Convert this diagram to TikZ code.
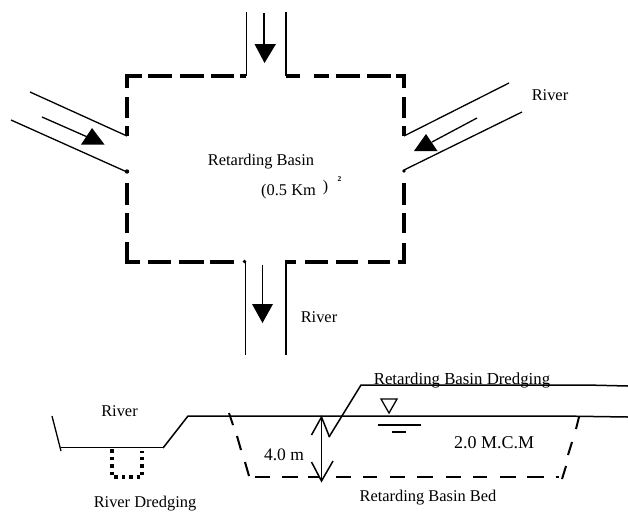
\documentclass[tikz,border=0pt]{standalone}
\usepackage{fontspec}
\setmainfont{Liberation Serif}
\begin{document}
\begin{tikzpicture}[x=1pt,y=-1pt,
  wall/.style={line width=1.5pt,black},
  thick dash/.style={line width=3.2pt,black},
  basin dash/.style={line width=2pt,black},
  thin wall/.style={line width=1.3pt,black},
  dots/.style={line width=3.2pt,black,dash pattern=on 3.5pt off 4pt},
  head/.style={fill=black,draw=none},
  lab/.style={inner sep=0pt,font=\fontsize{16.4}{18}\selectfont}]
\useasboundingbox (0,0) rectangle (628,512);
% coordinates
\coordinate (tl) at (127,76); \coordinate (tr) at (404,76);
\coordinate (bl) at (127,262); \coordinate (br) at (404,262);
% basin outline
\draw[thick dash] (127,88) -- (tl) -- (142,76);
\foreach \a/\b in {148/172,180/204,211/234} \draw[thick dash] (\a,76) -- (\b,76);
\foreach \a/\b in {314/329,336/360,367/391} \draw[thick dash] (\a,76) -- (\b,76);
\draw[thick dash] (396,76) -- (tr) -- (404,88);
\foreach \a/\b in {97/118,126/136,183/205,213/233} \draw[thick dash] (127,\a) -- (127,\b);
\foreach \a/\b in {97/118,126/136,183/205,213/233} \draw[thick dash] (404,\a) -- (404,\b);
\fill (127,171.5) circle (2.2pt); \fill (404,171) circle (1.9pt);
\draw[thick dash] (127,242) -- (bl) -- (140,262);
\foreach \a/\b in {148/171,179/204,210/234,305/328,336/358,368/390} \draw[thick dash] (\a,262) -- (\b,262);
\draw[thick dash] (398,262) -- (br) -- (404,243);
\fill (244.5,261.5) circle (1.9pt);
% top river
\draw[wall] (246.5,12) -- (246.5,76);
\draw[wall,line width=1.9pt] (286,12) -- (286,76);
\draw[thick dash] (286,76) -- (300,76);
\draw[thick dash] (240,76) -- (246,76);
\draw[wall] (264,13) -- (264,46);
\fill[head] (254.5,44) -- (276,44) -- (264.5,63) -- cycle;
% bottom river
\draw[wall] (245.5,262) -- (245.5,355);
\draw[wall,line width=1.9pt] (286,262) -- (286,355);
\draw[thick dash] (296,262) -- (285,262);
\draw[wall] (262.5,265) -- (262.5,306);
\fill[head] (252,304) -- (273,304) -- (262.5,323) -- cycle;
% left river
\draw[thin wall] (30,92) -- (127,136);
\draw[thin wall] (11,120) -- (127,172);
\draw[thin wall] (42,117) -- (92,139);
\fill[head] (92,128) -- (104.5,144.5) -- (81,144.5) -- cycle;
% right river
\draw[thin wall] (509,83) -- (404,136);
\draw[thin wall] (522,112) -- (404,170);
\draw[thin wall] (477,118) -- (432,142);
\fill[head] (426,134) -- (437.5,151) -- (414,151) -- cycle;
% labels, plan
\node[lab] (rb) at (261,161.5) {Retarding Basin};
\node[lab,anchor=west] (area) at (261,192) {(0.5 Km};
\node[lab,font=\fontsize{16}{18}\selectfont] (paren) at (325.5,187.5) {)};
\node[lab,font=\fontsize{7.5}{8}\selectfont\bfseries] (sq) at (339.5,179) {2};
\node[lab] (r1) at (550,95.5) {River};
\node[lab] (r2) at (319,317.5) {River};
% section
\draw[thin wall] (52,416) -- (61,451);
\draw[thin wall] (61,447.5) -- (163,447.5);
\draw[wall] (163,448) -- (188,416) -- (560,416) -- (628,417);
\draw[wall] (329,437) -- (361,385) -- (586,385) -- (628,386);
% dredging
\draw[dots] (112,449) -- (112,477) -- (142,477) -- (142,451);
% basin section dashed
\foreach \xa/\ya/\xb/\yb in {229/413/233/425,237/436/241/450,245/462/249/476,
  579/417/576/429,572/442/568/455,566/466/562/479}
  \draw[basin dash] (\xa,\ya) -- (\xb,\yb);
\foreach \a/\b in {255/270,282/298,308/320,336/351,363/377,390/405,417/433,446/461,473/487,500/516,527/544,556/559}
  \draw[basin dash] (\a,477) -- (\b,477);
% dimension
\coordinate (dt) at (321.5,417); \coordinate (db) at (321.5,481);
\draw[wall] (dt) -- (db);
\draw[wall] (311.5,435) -- (dt) -- (329.5,437);
\draw[wall] (311.5,462) -- (db) -- (333,461);
% water level
\draw[thin wall] (381,399) -- (397,399) -- (389,413) -- cycle;
\draw[thin wall] (378,425) -- (421,425);
\draw[wall] (392,432) -- (406,432);
% labels, section
\node[lab] (r3) at (119.5,411) {River};
\node[lab] (rd) at (145,504) {River Dredging};
\node[lab,font=\fontsize{17.5}{19}\selectfont] (fm) at (284,455) {4.0 m};
\node[lab,font=\fontsize{18}{20}\selectfont] (vol) at (494,443) {2.0 M.C.M};
\node[lab,font=\fontsize{16.8}{18}\selectfont] (rbd) at (462,380) {Retarding Basin Dredging};
\node[lab] (rbb) at (428,498) {Retarding Basin Bed};
\end{tikzpicture}
\end{document}
